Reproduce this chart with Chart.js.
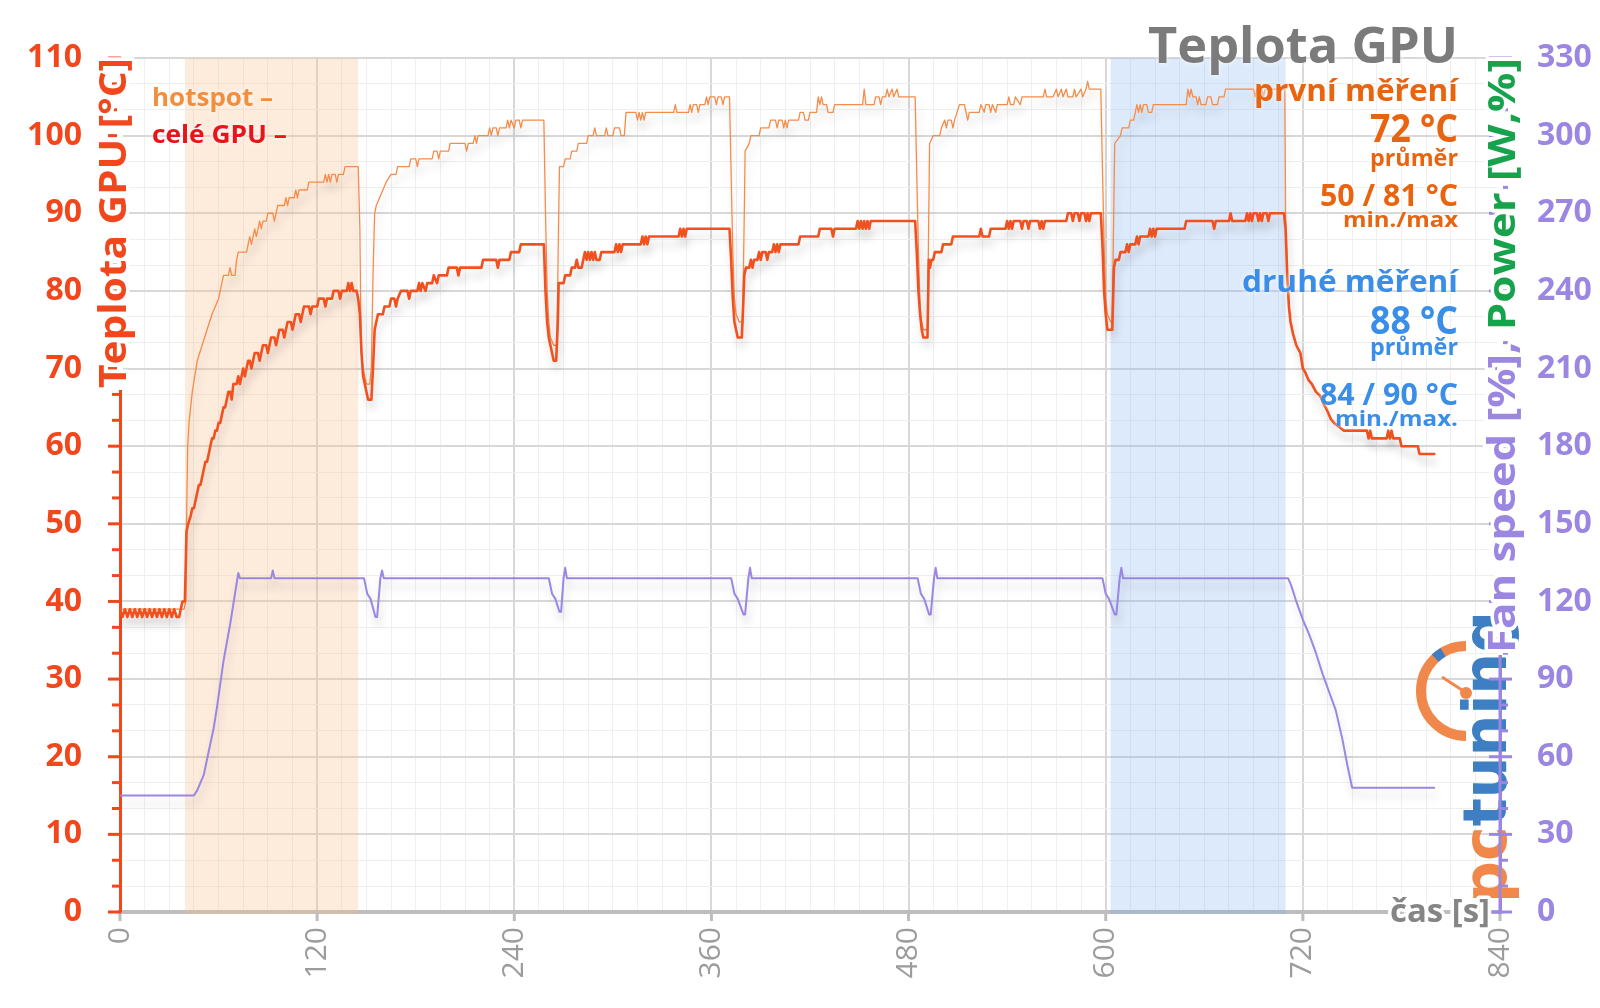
<!DOCTYPE html>
<html><head><meta charset="utf-8">
<script src="https://cdn.jsdelivr.net/npm/chart.js@4.4.1/dist/chart.umd.min.js"></script>
<style>html,body{margin:0;padding:0;background:#fff;}canvas{display:block;}</style>
</head><body>
<canvas id="c" width="1600" height="1008"></canvas>
<script>
// ---------- DATA ----------
const xTicks = [0,120,240,360,480,600,720,840];
const bandStart = [39.5, 603];
const bandEnd = [145, 709.5];

const gpuTime = [0,1.5,3,4.5,6,7.5,9,10.5,12,13.5,15,16.5,18,19.5,21,22.5,24,25.5,27,28.5,30,31.5,33,34.5,36,37,38,39.5,40.5,
41.5,43,44,45,46,47,48,49,50,51,52,53,54,55,56,57,58,59,60,61,62,63,64,65,66,67,68,69,70,71,72,73,74,75,76,77,78,79,80,81,82,84,85,86,87,89,90,91,92,94,95,96,97,99,100,101,102,104,105,106,107,109,110,111,112,115,116,117,120,121,124,125,126,129,130,133,134,135,138,139,140,141,142,144,145,
146,147,148,149,150,151,153,154,155,156,157,160,161,164,165,167,168,169,171,175,176,177,181,182,183,184,186,187,190,191,193,194,199,200,205,206,207,220,221,229,230,231,237,238,243,244,258,
259,260,261,262,263,264,265.5,266.5,267,
270,271,274,275,277,278,279,281,282,283,284,285,286,287,288,289,290,292,293,301,302,303,304,305,306,317,318,319,320,321,322,340,341,342,343,344,345,371,
372,373,374,375,376,378.5,379.5,380,
381,383,384,385,386,388,389,390,391,393,394,395,397,398,399,400,401,402,413,414,425,426,433,434,435,448,449,450,451,452,453,454,455,456,457,484,
485,486,487,488,489,491.5,492.3,
493,494,495,496,500,501,506,507,523,524,525,529,530,539,540,541,542,543,544,548,549,550,552,553,554,559,560,561,562,563,576,577,579,580,581,583,584,585,587,588,589,590,591,597,
598,599,600,601,604,605,
606,608,609,612,613,614,615,618,619,620,621,626,627,628,629,630,631,648,649,665,666,667,675,676,677,685,686,687,688,689,690,692,693,694,695,696,698,699,700,708.5,
709.5,710.5,711.5,712.5,714,716,718.5,720,721.5,723.5,725.5,728,730.5,732.5,735,737,739,742,745,759,760,761,762,771,772,773,774,775,779,780,790,791,800];
const gpuTemp = [39,38,39,38,39,38,39,38,39,38,39,38,39,38,39,38,39,38,39,38,39,38,39,38,38,39,40,40,49,
50,51,52,52,53,54,55,55,56,57,58,58,59,60,61,61,62,62,63,63,64,65,65,66,67,67,66,68,68,68,69,68,69,70,69,70,71,71,70,71,72,72,71,72,73,73,72,73,74,74,73,74,75,75,74,75,76,76,75,76,77,77,76,77,78,78,77,78,78,79,79,78,79,79,80,80,79,80,80,81,80,81,80,80,79,
77,72,69,68,67,66,66,70,75,76,77,77,78,78,79,79,78,79,80,80,79,80,80,81,80,81,80,81,81,82,81,82,82,83,83,82,83,83,84,84,83,84,84,85,85,86,86,
80,76,74,73,72,71,71,76,81,
81,82,82,83,83,84,83,83,84,85,84,85,84,85,84,85,84,84,85,85,86,85,86,85,86,86,87,86,87,86,87,87,88,87,88,87,88,88,
84,79,76,75,74,74,79,82,
83,83,84,83,84,84,85,84,85,85,84,85,85,86,85,86,85,86,86,87,87,88,88,87,88,88,89,88,89,88,89,88,89,88,89,89,
85,80,77,75,74,74,84,
83,84,84,85,85,86,86,87,87,88,87,87,88,88,89,88,89,88,89,89,88,89,89,88,89,89,88,89,88,89,89,90,90,89,90,90,89,90,90,89,90,89,90,90,
86,80,77,75,75,83,
84,84,85,85,86,85,86,86,87,86,87,87,88,87,88,87,88,88,89,89,88,89,89,90,89,89,90,89,90,89,90,90,89,90,89,90,90,89,90,90,
88,82,78,76,74.5,73,72,70,69.5,68.5,68,67,66.5,65.5,64.5,63.5,63,62.5,62,62,61,62,61,61,62,61,62,61,61,60,60,59,59];

const hotTime = [0,39,40,40.5,41.2,42,43,44,45.5,47,48.5,50,51.5,53,54.5,56,58,60,61,62,63,66,67,68,70,71,72,77,78,79,80,81,82,83,84,85,86,87,89,90,93,94,95,96,100,101,102,103,106,107,108,109,114,115,124,125,126,127,128,129,131,132,133,136,137,145,
146,146.5,147,148,150,152,153,154,155,156,158,160,162,165,168,169,176,177,180,181,182,190,191,193,194,195,200,201,210,211,212,215,216,217,218,224,225,226,227,229,230,231,235,236,237,238,240,241,243,244,245,258,
259,260,261,262,264,266,266.7,267.5,
270,271,274,275,278,279,284,285,288,289,290,295,296,297,300,301,304,305,307,308,314,315,316,317,318,319,320,337,338,339,346,347,348,349,351,352,353,356,357,358,359,362,363,364,366,367,368,371,
372,373,374,375,377,379,380,380.5,383,384,389,390,395,396,399,400,401,403,404,405,406,407,413,414,416,417,419,420,424,425,426,427,428,430,431,434,435,452,453,454,459,460,462,463,464,466,467,468,470,471,473,474,484,
485,486,487,488,489,491.5,492.3,492.8,
495,499,500,502,503,504,506,507,508,511,514,515,516,517,523,524,526,527,529,530,531,533,534,540,541,542,544,545,548,549,562,563,564,568,570,571,573,574,576,577,580,581,582,585,586,588,589,590,597,
598,599,600,601,603,604,605,605.5,
609,610,614,615,617,618,619,620,621,622,623,625,626,628,629,649,650,651,652,653,655,656,657,658,661,662,664,665,668,669,672,673,690,691,692,695,696,697,709,
709.5,710.5,711.5,712.5,714,716,718.5,720,721.5,723.5,725.5,728,730.5,732.5,735,737,739,742,745,759,760,761,762,771,772,773,774,775,779,780,790,791,800];
const hotTemp = [39,39,40,50,60,63,65,67,69,71,72,73,74,75,76,77,78,79,80,81,82,82,83,82,82,84,85,85,86,87,86,87,88,87,88,89,88,89,89,90,90,89,90,91,91,92,91,92,92,93,92,93,93,94,94,95,94,95,94,95,95,94,95,95,96,96,
88,78,72,70,68,68,70,82,90,91,92,93,94,95,95,96,96,97,97,96,97,97,98,98,97,98,98,99,99,98,99,99,100,99,100,100,101,100,101,101,100,101,101,102,101,102,101,102,102,101,102,102,
90,80,76,74,73,73,85,96,
96,97,97,98,98,99,99,100,100,101,100,100,101,100,100,101,101,100,100,103,103,102,103,102,103,102,103,103,104,103,103,104,103,104,104,103,104,104,105,104,105,105,104,105,105,104,105,105,
95,85,79,77,76,76,90,98,99,100,100,101,101,102,102,101,102,102,101,102,101,102,102,103,103,102,102,103,103,105,104,105,104,104,103,103,104,104,106,104,104,105,105,104,105,105,106,105,106,105,106,105,105,
95,85,78,76,75,75,90,99,
100,100,101,102,101,102,102,101,102,104,104,103,102,103,103,104,103,104,104,103,104,103,104,104,105,104,104,105,104,105,105,106,105,105,106,105,106,105,106,105,105,106,105,106,105,106,107,106,106,
96,86,79,77,76,76,92,99,
100,101,101,102,102,103,104,103,104,103,104,104,103,103,104,104,106,105,106,105,105,104,105,104,104,105,105,104,104,105,105,106,106,105,106,106,105,106,106,
90,82,78,76,74.5,73,72,70,69.5,68.5,68,67,66.5,65.5,64.5,63.5,63,62.5,62,62,61,62,61,61,62,61,62,61,61,60,60,59,59];

const fanTime = [0,45,47,49,51,53,55,57,59,61,63,65,67,69,71,72,73,92,93,94,
148.5,150.5,152.5,155.5,156.5,158.5,159.5,160.5,
261,263,265,267.5,268.5,270,271,272,
372,374,376,379.5,380.5,382.5,383.5,384.5,
485.5,487.5,489.5,492.5,493.5,495.5,496.5,497.5,
598,600,602,605.5,606.5,608.5,609.5,610.5,
711,713,716,720,724,728,732,736,740,744,747,750,800];
const fanValue = [45,45,47,50,53,59,65,71,79,88,97,104,111,119,127,131,129,129,132,129,
129,123,121,114,114,129,132,129,
129,123,121,116,116,129,133,129,
129,123,121,115,115,129,133,129,
129,123,121,115,115,129,133,129,
129,123,121,115,115,129,133,129,
129,126,120,113,107,100,92,85,78,67,57,48,48];

// ---------- STYLE ----------
const RED = '#f2461c', PURPLE = '#9b86e2', GRAY = '#bdbdbd';
const FONT = '"Open Sans", "DejaVu Sans", sans-serif';

function pts(t, v){ return t.map((x,i)=>({x:x, y:v[i]})); }

function fitText(ctx, s, x, y, size, color, align, width, weight){
  ctx.font = (weight||'bold') + ' ' + size + 'px ' + FONT;
  const w = ctx.measureText(s).width;
  const k = width ? width / w : 1;
  ctx.save();
  ctx.translate(x, y); ctx.scale(k, 1);
  ctx.textAlign = align; ctx.textBaseline = 'alphabetic';
  ctx.shadowColor = 'rgba(255,255,255,0.95)'; ctx.shadowBlur = 5;
  ctx.fillStyle = color;
  ctx.fillText(s, 0, 0);
  ctx.restore();
}

function rotTitle(ctx, parts, x, yStart, size, length, lineX){
  ctx.save();
  // hide the axis line behind the title
  ctx.fillStyle = '#fff';
  ctx.fillRect(lineX - 3, yStart - length, 6, length + 2);
  ctx.font = 'bold ' + size + 'px ' + FONT;
  let total = 0; parts.forEach(p => total += ctx.measureText(p[0]).width);
  const k = length / total;
  ctx.translate(x, yStart); ctx.rotate(-Math.PI/2); ctx.scale(k, 1);
  ctx.textAlign = 'left'; ctx.textBaseline = 'alphabetic';
  let off = 0;
  ctx.lineJoin = 'round';
  parts.forEach(p => {
    ctx.strokeStyle = '#fff'; ctx.lineWidth = 7;
    ctx.strokeText(p[0], off, 0);
    off += ctx.measureText(p[0]).width;
  });
  off = 0;
  parts.forEach(p => {
    ctx.fillStyle = p[1];
    ctx.fillText(p[0], off, 0);
    off += ctx.measureText(p[0]).width;
  });
  ctx.restore();
}

const decor = {
  id: 'decor',
  beforeDatasetsDraw(chart){
    const ctx = chart.ctx, ca = chart.chartArea, xs = chart.scales.x;
    const cols = ['rgba(250,190,140,0.30)', 'rgba(120,170,240,0.25)'];
    ctx.save();
    for (let i = 0; i < bandStart.length; i++){
      const a = xs.getPixelForValue(bandStart[i]), b = xs.getPixelForValue(bandEnd[i]);
      ctx.fillStyle = cols[i];
      ctx.fillRect(a, ca.top, b - a, ca.bottom - ca.top + 2);
    }
    ctx.restore();
  },
  beforeDatasetDraw(chart){
    const ctx = chart.ctx;
    ctx.save();
    ctx.shadowColor = 'rgba(0,0,0,0.17)'; ctx.shadowBlur = 8; ctx.shadowOffsetX = 2; ctx.shadowOffsetY = 8;
  },
  afterDatasetDraw(chart){ chart.ctx.restore(); },
  afterDraw(chart){
    const ctx = chart.ctx, ca = chart.chartArea, xs = chart.scales.x, y2 = chart.scales.y2;
    const ln = (a,b,c,d) => { ctx.beginPath(); ctx.moveTo(a,b); ctx.lineTo(c,d); ctx.stroke(); };
    ctx.save();
    // x ticks
    ctx.strokeStyle = GRAY; ctx.lineWidth = 3;
    xTicks.forEach(v => { const p = xs.getPixelForValue(v); ln(p, ca.bottom, p, ca.bottom + 9); });
    // left axis ticks
    ctx.strokeStyle = RED; ctx.lineWidth = 3;
    for (let v = 0; v <= 330; v += 10){
      const p = y2.getPixelForValue(v);
      if (v % 30 === 0) ln(ca.left - 12, p, ca.left + 1, p); else ln(ca.left - 8, p, ca.left, p);
    }
    // logo
    ctx.save();
    ctx.lineWidth = 10; ctx.strokeStyle = '#f0884c';
    ctx.beginPath(); ctx.arc(1466, 691, 45, -Math.PI/2, Math.PI/2, true); ctx.stroke();
    ctx.strokeStyle = '#3d7fc2';
    ctx.beginPath(); ctx.arc(1466, 691, 45, -Math.PI*0.74, -Math.PI*0.67); ctx.stroke();
    ctx.strokeStyle = '#f0884c'; ctx.lineWidth = 3; ln(1442, 677, 1465, 692);
    ctx.fillStyle = '#f0884c'; ctx.beginPath(); ctx.arc(1466, 693, 6, 0, Math.PI*2); ctx.fill();
    ctx.font = 'bold 60px "DejaVu Sans", sans-serif';
    const w1 = ctx.measureText('pc').width, w2 = ctx.measureText('tuning').width;
    const k = 292 / (w1 + w2);
    ctx.translate(1506, 903); ctx.rotate(-Math.PI/2); ctx.scale(k, 1);
    ctx.textBaseline = 'alphabetic'; ctx.textAlign = 'left';
    ctx.fillStyle = '#f0884c'; ctx.fillText('pc', 0, 0);
    ctx.fillStyle = '#3d7fc2'; ctx.fillText('tuning', w1, 0);
    ctx.restore();
    // right axis line + ticks (over logo)
    ctx.strokeStyle = PURPLE; ctx.lineWidth = 3;
    ln(ca.right, ca.top, ca.right, ca.bottom + 2);
    for (let v = 0; v <= 330; v += 10){
      const p = y2.getPixelForValue(v);
      if (v % 30 === 0) ln(ca.right - 11, p, ca.right + 12, p); else ln(ca.right, p, ca.right + 8, p);
    }
    ctx.restore();
    // axis titles
    rotTitle(ctx, [['Teplota GPU [°C]', RED]], 126, 388, 38, 330, ca.left);
    rotTitle(ctx, [['Fan speed [%], ', PURPLE], ['Power [W,%]', '#17a24c']], 1515, 653, 38, 595, ca.right);
    // x title
    ctx.save();
    ctx.font = 'bold 32px ' + FONT;
    const wt = ctx.measureText('čas [s]').width;
    ctx.translate(1490, 922); ctx.scale(100 / wt, 1);
    ctx.textAlign = 'right'; ctx.lineJoin = 'round';
    ctx.strokeStyle = '#fff'; ctx.lineWidth = 7; ctx.strokeText('čas [s]', 0, 0);
    ctx.fillStyle = '#858585'; ctx.fillText('čas [s]', 0, 0);
    ctx.restore();
    // legend
    fitText(ctx, 'hotspot –', 152, 106, 25, '#f28f3e', 'left', 121);
    fitText(ctx, 'celé GPU –', 152, 143, 25, '#e8141a', 'left', 135);
    // title and stats
    const OR = '#e8640f', BL = '#3a8ee8';
    fitText(ctx, 'Teplota GPU', 1458, 63, 51, '#7b7b7b', 'right', 310);
    fitText(ctx, 'první měření', 1458, 101, 30, OR, 'right', 204);
    fitText(ctx, '72 °C', 1458, 142, 40, OR, 'right', 88);
    fitText(ctx, 'průměr', 1458, 166, 23, OR, 'right', 88);
    fitText(ctx, '50 / 81 °C', 1458, 206, 31, OR, 'right', 138);
    fitText(ctx, 'min./max', 1458, 227, 22, OR, 'right', 115);
    fitText(ctx, 'druhé měření', 1458, 292, 30, BL, 'right', 216);
    fitText(ctx, '88 °C', 1458, 334, 40, BL, 'right', 88);
    fitText(ctx, 'průměr', 1458, 355, 23, BL, 'right', 88);
    fitText(ctx, '84 / 90 °C', 1458, 405, 31, BL, 'right', 138);
    fitText(ctx, 'min./max.', 1458, 426, 22, BL, 'right', 123);
  }
};

new Chart(document.getElementById('c'), {
  type: 'line',
  data: {
    datasets: [
      { label: 'celé GPU', data: pts(gpuTime, gpuTemp), borderColor: '#f2511f', borderWidth: 2.6, yAxisID: 'y' },
      { label: 'hotspot', data: pts(hotTime, hotTemp), borderColor: '#f58c4a', borderWidth: 1.3, yAxisID: 'y' },
      { label: 'Fan speed', data: pts(fanTime, fanValue), borderColor: '#9b86e4', borderWidth: 2, yAxisID: 'y2' }
    ]
  },
  options: {
    responsive: false, animation: false, devicePixelRatio: 1,
    layout: { padding: { top: 58, left: 0, right: 0, bottom: 0 } },
    elements: { point: { radius: 0 }, line: { tension: 0, borderJoinStyle: 'round', borderCapStyle: 'round' } },
    plugins: { legend: { display: false }, tooltip: { enabled: false } },
    scales: {
      x: {
        type: 'linear', min: 0, max: 840, position: 'bottom',
        afterFit: s => { s.height = 96; },
        ticks: { stepSize: 15, autoSkip: false, maxRotation: 90, minRotation: 90, padding: 15,
          callback: v => (v % 120 === 0 ? String(v) : ''),
          font: { family: FONT, size: 30 }, color: '#9c9c9c' },
        grid: { drawTicks: false,
          color: c => (c.tick && c.tick.value % 120 === 0 ? '#d8d8d8' : '#efefef'),
          lineWidth: c => (c.tick && c.tick.value % 120 === 0 ? 2 : 1) },
        border: { color: GRAY, width: 4 }
      },
      y: {
        position: 'left', min: 0, max: 110,
        afterFit: s => { s.width = 120; },
        ticks: { stepSize: 10, padding: 38, font: { family: FONT, size: 32, weight: 'bold' }, color: RED },
        grid: { display: false, drawTicks: false },
        border: { color: RED, width: 3 }
      },
      y2: {
        position: 'right', min: 0, max: 330,
        afterFit: s => { s.width = 100; },
        ticks: { stepSize: 10, padding: 37, autoSkip: false,
          callback: v => (v % 30 === 0 ? String(v) : ''),
          font: { family: FONT, size: 32, weight: 'bold' }, color: PURPLE },
        grid: { drawTicks: false,
          color: c => (c.tick && c.tick.value % 30 === 0 ? '#d8d8d8' : '#efefef'),
          lineWidth: c => (c.tick && c.tick.value % 30 === 0 ? 2 : 1) },
        border: { color: PURPLE, width: 3 }
      }
    }
  },
  plugins: [decor]
});
</script>
</body></html>
